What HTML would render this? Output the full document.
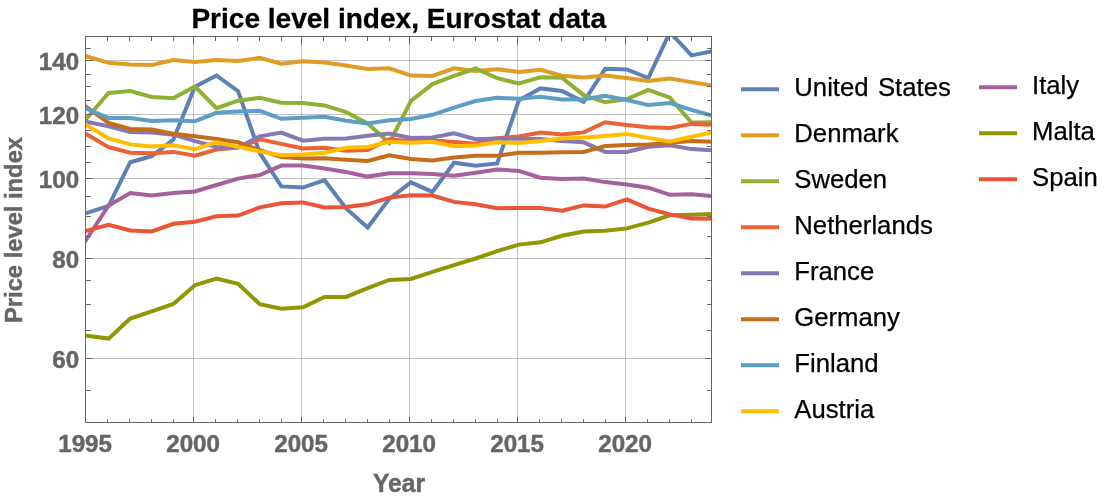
<!DOCTYPE html>
<html><head><meta charset="utf-8"><title>Price level index</title>
<style>
html,body{margin:0;padding:0;background:#fff;}
body{width:1108px;height:502px;overflow:hidden;position:relative;font-family:"Liberation Sans",sans-serif;}
svg{position:absolute;left:0;top:0;will-change:transform;}
text{font-family:"Liberation Sans",sans-serif;}
.tl{font-weight:bold;fill:#666666;font-size:24.2px;stroke:#666666;stroke-width:0.45px;}
.al{font-weight:bold;fill:#666666;font-size:24.6px;stroke:#666666;stroke-width:0.45px;}
.lg{fill:#000;font-size:25.7px;stroke:#000;stroke-width:0.25px;}
</style></head><body>
<svg width="1108" height="502" viewBox="0 0 1108 502">
<defs><clipPath id="c"><rect x="85.5" y="36.5" width="626.0" height="386.0"/></clipPath></defs>
<rect x="0" y="0" width="1108" height="502" fill="#fff"/>

<g stroke="#666666" stroke-opacity="0.4" stroke-width="1" fill="none">
<line x1="193.5" y1="36.5" x2="193.5" y2="422.5"/>
<line x1="301.5" y1="36.5" x2="301.5" y2="422.5"/>
<line x1="409.5" y1="36.5" x2="409.5" y2="422.5"/>
<line x1="517.5" y1="36.5" x2="517.5" y2="422.5"/>
<line x1="625.5" y1="36.5" x2="625.5" y2="422.5"/>
<line x1="85.5" y1="60.5" x2="711.5" y2="60.5"/>
<line x1="85.5" y1="114.5" x2="711.5" y2="114.5"/>
<line x1="85.5" y1="178.5" x2="711.5" y2="178.5"/>
<line x1="85.5" y1="258.5" x2="711.5" y2="258.5"/>
<line x1="85.5" y1="358.5" x2="711.5" y2="358.5"/>
</g>
<g clip-path="url(#c)" fill="none" stroke-width="4.0" stroke-linejoin="miter" stroke-linecap="butt" stroke-miterlimit="3">
<path d="M82.7,214.2 L87.0,212.8 L108.6,205.9 L130.2,162.2 L151.8,156.2 L173.4,139.6 L194.9,86.8 L216.5,75.5 L238.1,91.2 L259.7,152.8 L281.3,186.4 L302.9,187.6 L324.5,180.2 L346.1,208.4 L367.7,227.5 L389.3,198.9 L410.9,182.3 L432.4,191.9 L454.0,162.7 L475.6,165.7 L497.2,163.4 L518.8,100.3 L540.4,88.4 L562.0,91.0 L583.6,101.8 L605.2,68.8 L626.8,69.4 L648.3,78.0 L669.9,32.2 L691.5,55.4 L713.1,51.1" stroke="#5E81B5"/>
<path d="M82.7,55.2 L87.0,56.5 L108.6,62.8 L130.2,64.5 L151.8,64.9 L173.4,60.0 L194.9,62.0 L216.5,60.0 L238.1,60.9 L259.7,57.9 L281.3,63.8 L302.9,61.2 L324.5,62.6 L346.1,65.5 L367.7,69.0 L389.3,68.3 L410.9,75.6 L432.4,76.0 L454.0,68.3 L475.6,71.0 L497.2,69.2 L518.8,72.0 L540.4,69.8 L562.0,75.8 L583.6,77.6 L605.2,75.4 L626.8,78.0 L648.3,81.0 L669.9,78.5 L691.5,82.1 L713.1,85.7" stroke="#E19C24"/>
<path d="M82.7,123.0 L87.0,118.0 L108.6,93.0 L130.2,91.0 L151.8,97.0 L173.4,98.3 L194.9,86.5 L216.5,108.1 L238.1,100.7 L259.7,97.8 L281.3,102.7 L302.9,102.9 L324.5,105.4 L346.1,112.2 L367.7,123.4 L389.3,143.0 L410.9,101.0 L432.4,84.1 L454.0,75.8 L475.6,68.5 L497.2,78.2 L518.8,83.5 L540.4,77.3 L562.0,77.8 L583.6,95.1 L605.2,102.3 L626.8,99.0 L648.3,89.8 L669.9,97.7 L691.5,122.6 L713.1,122.2" stroke="#8FB032"/>
<path d="M82.7,132.0 L87.0,134.5 L108.6,147.2 L130.2,152.7 L151.8,153.3 L173.4,151.9 L194.9,155.7 L216.5,149.5 L238.1,147.5 L259.7,139.4 L281.3,143.9 L302.9,148.4 L324.5,147.8 L346.1,150.7 L367.7,150.1 L389.3,139.3 L410.9,141.2 L432.4,140.5 L454.0,142.0 L475.6,143.8 L497.2,138.2 L518.8,136.4 L540.4,132.6 L562.0,134.6 L583.6,132.4 L605.2,122.3 L626.8,125.0 L648.3,127.2 L669.9,128.0 L691.5,123.9 L713.1,124.9" stroke="#EB6235"/>
<path d="M82.7,121.0 L87.0,121.9 L108.6,126.3 L130.2,132.0 L151.8,132.4 L173.4,134.7 L194.9,141.1 L216.5,146.9 L238.1,147.6 L259.7,136.3 L281.3,132.6 L302.9,140.7 L324.5,138.8 L346.1,138.6 L367.7,135.7 L389.3,133.5 L410.9,137.9 L432.4,137.5 L454.0,133.3 L475.6,139.3 L497.2,138.6 L518.8,138.8 L540.4,139.0 L562.0,141.0 L583.6,142.3 L605.2,151.9 L626.8,152.0 L648.3,146.7 L669.9,145.3 L691.5,149.1 L713.1,150.4" stroke="#8778B3"/>
<path d="M82.7,104.3 L87.0,107.4 L108.6,122.9 L130.2,128.9 L151.8,129.5 L173.4,133.7 L194.9,136.3 L216.5,139.0 L238.1,142.3 L259.7,150.2 L281.3,157.0 L302.9,158.6 L324.5,158.3 L346.1,159.8 L367.7,161.0 L389.3,155.4 L410.9,159.0 L432.4,160.4 L454.0,157.6 L475.6,155.7 L497.2,155.7 L518.8,152.8 L540.4,152.7 L562.0,152.3 L583.6,151.9 L605.2,146.1 L626.8,145.1 L648.3,144.4 L669.9,142.8 L691.5,140.9 L713.1,141.8" stroke="#C56E1A"/>
<path d="M82.7,106.9 L87.0,108.8 L108.6,118.1 L130.2,117.9 L151.8,121.0 L173.4,120.2 L194.9,121.2 L216.5,112.8 L238.1,111.5 L259.7,110.8 L281.3,118.8 L302.9,117.7 L324.5,116.7 L346.1,120.8 L367.7,123.5 L389.3,120.2 L410.9,119.0 L432.4,114.8 L454.0,107.6 L475.6,101.0 L497.2,97.8 L518.8,98.8 L540.4,96.8 L562.0,99.6 L583.6,99.2 L605.2,95.9 L626.8,100.0 L648.3,105.1 L669.9,103.1 L691.5,109.8 L713.1,116.0" stroke="#5D9EC7"/>
<path d="M82.7,122.8 L87.0,125.4 L108.6,138.3 L130.2,144.4 L151.8,146.6 L173.4,145.3 L194.9,149.1 L216.5,142.2 L238.1,146.9 L259.7,151.4 L281.3,155.2 L302.9,154.4 L324.5,152.7 L346.1,147.7 L367.7,147.0 L389.3,141.7 L410.9,142.7 L432.4,141.8 L454.0,146.3 L475.6,145.4 L497.2,142.2 L518.8,143.0 L540.4,141.0 L562.0,138.5 L583.6,137.8 L605.2,136.0 L626.8,133.9 L648.3,137.9 L669.9,141.5 L691.5,136.8 L713.1,132.2" stroke="#FFBF00"/>
<path d="M82.7,245.1 L87.0,238.5 L108.6,205.4 L130.2,193.0 L151.8,195.6 L173.4,193.0 L194.9,191.4 L216.5,185.0 L238.1,178.6 L259.7,175.0 L281.3,165.6 L302.9,165.5 L324.5,168.6 L346.1,172.0 L367.7,176.6 L389.3,173.2 L410.9,173.2 L432.4,174.1 L454.0,175.8 L475.6,172.8 L497.2,169.5 L518.8,170.9 L540.4,177.7 L562.0,179.1 L583.6,178.5 L605.2,182.1 L626.8,184.4 L648.3,187.7 L669.9,194.8 L691.5,194.2 L713.1,196.0" stroke="#A5609D"/>
<path d="M82.7,335.1 L87.0,335.7 L108.6,338.6 L130.2,318.5 L151.8,311.3 L173.4,304.0 L194.9,285.2 L216.5,278.6 L238.1,283.9 L259.7,304.2 L281.3,308.8 L302.9,307.2 L324.5,296.9 L346.1,296.9 L367.7,288.2 L389.3,279.9 L410.9,279.0 L432.4,271.9 L454.0,265.1 L475.6,258.5 L497.2,251.1 L518.8,244.6 L540.4,242.3 L562.0,235.8 L583.6,231.6 L605.2,230.8 L626.8,228.4 L648.3,222.6 L669.9,215.3 L691.5,214.7 L713.1,213.9" stroke="#929600"/>
<path d="M82.7,231.7 L87.0,230.6 L108.6,224.9 L130.2,230.4 L151.8,231.4 L173.4,223.8 L194.9,221.8 L216.5,216.2 L238.1,215.5 L259.7,207.4 L281.3,203.3 L302.9,202.4 L324.5,207.5 L346.1,207.0 L367.7,204.3 L389.3,197.6 L410.9,195.2 L432.4,195.5 L454.0,201.9 L475.6,204.2 L497.2,208.3 L518.8,208.0 L540.4,208.0 L562.0,210.8 L583.6,205.4 L605.2,206.6 L626.8,199.3 L648.3,208.7 L669.9,214.4 L691.5,218.6 L713.1,218.8" stroke="#E95536"/>
</g>
<g stroke="#666666" stroke-width="1" fill="none">
<rect x="85.5" y="36.5" width="626.0" height="386.0"/>
</g>
<g stroke="#666666" stroke-width="1" fill="none">
<line x1="85.5" y1="422.5" x2="85.5" y2="417.0"/>
<line x1="85.5" y1="36.5" x2="85.5" y2="44.7"/>
<line x1="107.5" y1="422.5" x2="107.5" y2="419.2"/>
<line x1="107.5" y1="36.5" x2="107.5" y2="41.0"/>
<line x1="129.5" y1="422.5" x2="129.5" y2="419.2"/>
<line x1="129.5" y1="36.5" x2="129.5" y2="41.0"/>
<line x1="151.5" y1="422.5" x2="151.5" y2="419.2"/>
<line x1="151.5" y1="36.5" x2="151.5" y2="41.0"/>
<line x1="173.5" y1="422.5" x2="173.5" y2="419.2"/>
<line x1="173.5" y1="36.5" x2="173.5" y2="41.0"/>
<line x1="193.5" y1="422.5" x2="193.5" y2="417.0"/>
<line x1="193.5" y1="36.5" x2="193.5" y2="44.7"/>
<line x1="215.5" y1="422.5" x2="215.5" y2="419.2"/>
<line x1="215.5" y1="36.5" x2="215.5" y2="41.0"/>
<line x1="237.5" y1="422.5" x2="237.5" y2="419.2"/>
<line x1="237.5" y1="36.5" x2="237.5" y2="41.0"/>
<line x1="259.5" y1="422.5" x2="259.5" y2="419.2"/>
<line x1="259.5" y1="36.5" x2="259.5" y2="41.0"/>
<line x1="281.5" y1="422.5" x2="281.5" y2="419.2"/>
<line x1="281.5" y1="36.5" x2="281.5" y2="41.0"/>
<line x1="301.5" y1="422.5" x2="301.5" y2="417.0"/>
<line x1="301.5" y1="36.5" x2="301.5" y2="44.7"/>
<line x1="323.5" y1="422.5" x2="323.5" y2="419.2"/>
<line x1="323.5" y1="36.5" x2="323.5" y2="41.0"/>
<line x1="345.5" y1="422.5" x2="345.5" y2="419.2"/>
<line x1="345.5" y1="36.5" x2="345.5" y2="41.0"/>
<line x1="367.5" y1="422.5" x2="367.5" y2="419.2"/>
<line x1="367.5" y1="36.5" x2="367.5" y2="41.0"/>
<line x1="389.5" y1="422.5" x2="389.5" y2="419.2"/>
<line x1="389.5" y1="36.5" x2="389.5" y2="41.0"/>
<line x1="409.5" y1="422.5" x2="409.5" y2="417.0"/>
<line x1="409.5" y1="36.5" x2="409.5" y2="44.7"/>
<line x1="431.5" y1="422.5" x2="431.5" y2="419.2"/>
<line x1="431.5" y1="36.5" x2="431.5" y2="41.0"/>
<line x1="453.5" y1="422.5" x2="453.5" y2="419.2"/>
<line x1="453.5" y1="36.5" x2="453.5" y2="41.0"/>
<line x1="475.5" y1="422.5" x2="475.5" y2="419.2"/>
<line x1="475.5" y1="36.5" x2="475.5" y2="41.0"/>
<line x1="497.5" y1="422.5" x2="497.5" y2="419.2"/>
<line x1="497.5" y1="36.5" x2="497.5" y2="41.0"/>
<line x1="517.5" y1="422.5" x2="517.5" y2="417.0"/>
<line x1="517.5" y1="36.5" x2="517.5" y2="44.7"/>
<line x1="539.5" y1="422.5" x2="539.5" y2="419.2"/>
<line x1="539.5" y1="36.5" x2="539.5" y2="41.0"/>
<line x1="561.5" y1="422.5" x2="561.5" y2="419.2"/>
<line x1="561.5" y1="36.5" x2="561.5" y2="41.0"/>
<line x1="583.5" y1="422.5" x2="583.5" y2="419.2"/>
<line x1="583.5" y1="36.5" x2="583.5" y2="41.0"/>
<line x1="605.5" y1="422.5" x2="605.5" y2="419.2"/>
<line x1="605.5" y1="36.5" x2="605.5" y2="41.0"/>
<line x1="625.5" y1="422.5" x2="625.5" y2="417.0"/>
<line x1="625.5" y1="36.5" x2="625.5" y2="44.7"/>
<line x1="647.5" y1="422.5" x2="647.5" y2="419.2"/>
<line x1="647.5" y1="36.5" x2="647.5" y2="41.0"/>
<line x1="669.5" y1="422.5" x2="669.5" y2="419.2"/>
<line x1="669.5" y1="36.5" x2="669.5" y2="41.0"/>
<line x1="691.5" y1="422.5" x2="691.5" y2="419.2"/>
<line x1="691.5" y1="36.5" x2="691.5" y2="41.0"/>
<line x1="85.5" y1="390.5" x2="90.9" y2="390.5"/>
<line x1="711.5" y1="390.5" x2="707.1" y2="390.5"/>
<line x1="85.5" y1="358.5" x2="92.9" y2="358.5"/>
<line x1="711.5" y1="358.5" x2="704.9" y2="358.5"/>
<line x1="85.5" y1="330.5" x2="90.9" y2="330.5"/>
<line x1="711.5" y1="330.5" x2="707.1" y2="330.5"/>
<line x1="85.5" y1="304.5" x2="90.9" y2="304.5"/>
<line x1="711.5" y1="304.5" x2="707.1" y2="304.5"/>
<line x1="85.5" y1="280.5" x2="90.9" y2="280.5"/>
<line x1="711.5" y1="280.5" x2="707.1" y2="280.5"/>
<line x1="85.5" y1="258.5" x2="92.9" y2="258.5"/>
<line x1="711.5" y1="258.5" x2="704.9" y2="258.5"/>
<line x1="85.5" y1="236.5" x2="90.9" y2="236.5"/>
<line x1="711.5" y1="236.5" x2="707.1" y2="236.5"/>
<line x1="85.5" y1="216.5" x2="90.9" y2="216.5"/>
<line x1="711.5" y1="216.5" x2="707.1" y2="216.5"/>
<line x1="85.5" y1="196.5" x2="90.9" y2="196.5"/>
<line x1="711.5" y1="196.5" x2="707.1" y2="196.5"/>
<line x1="85.5" y1="178.5" x2="92.9" y2="178.5"/>
<line x1="711.5" y1="178.5" x2="704.9" y2="178.5"/>
<line x1="85.5" y1="162.5" x2="90.9" y2="162.5"/>
<line x1="711.5" y1="162.5" x2="707.1" y2="162.5"/>
<line x1="85.5" y1="146.5" x2="90.9" y2="146.5"/>
<line x1="711.5" y1="146.5" x2="707.1" y2="146.5"/>
<line x1="85.5" y1="130.5" x2="90.9" y2="130.5"/>
<line x1="711.5" y1="130.5" x2="707.1" y2="130.5"/>
<line x1="85.5" y1="114.5" x2="92.9" y2="114.5"/>
<line x1="711.5" y1="114.5" x2="704.9" y2="114.5"/>
<line x1="85.5" y1="100.5" x2="90.9" y2="100.5"/>
<line x1="711.5" y1="100.5" x2="707.1" y2="100.5"/>
<line x1="85.5" y1="86.5" x2="90.9" y2="86.5"/>
<line x1="711.5" y1="86.5" x2="707.1" y2="86.5"/>
<line x1="85.5" y1="74.5" x2="90.9" y2="74.5"/>
<line x1="711.5" y1="74.5" x2="707.1" y2="74.5"/>
<line x1="85.5" y1="60.5" x2="92.9" y2="60.5"/>
<line x1="711.5" y1="60.5" x2="704.9" y2="60.5"/>
<line x1="85.5" y1="48.5" x2="90.9" y2="48.5"/>
<line x1="711.5" y1="48.5" x2="707.1" y2="48.5"/>
</g>
<text class="tl" transform="translate(85.1,452.1) scale(1,1.02)" text-anchor="middle">1995</text>
<text class="tl" transform="translate(193.1,452.1) scale(1,1.02)" text-anchor="middle">2000</text>
<text class="tl" transform="translate(301.1,452.1) scale(1,1.02)" text-anchor="middle">2005</text>
<text class="tl" transform="translate(409.1,452.1) scale(1,1.02)" text-anchor="middle">2010</text>
<text class="tl" transform="translate(517.1,452.1) scale(1,1.02)" text-anchor="middle">2015</text>
<text class="tl" transform="translate(625.1,452.1) scale(1,1.02)" text-anchor="middle">2020</text>
<text class="tl" transform="translate(79.1,69.5) scale(1,1.02)" text-anchor="end">140</text>
<text class="tl" transform="translate(79.1,123.5) scale(1,1.02)" text-anchor="end">120</text>
<text class="tl" transform="translate(79.1,187.5) scale(1,1.02)" text-anchor="end">100</text>
<text class="tl" transform="translate(79.1,267.5) scale(1,1.02)" text-anchor="end">80</text>
<text class="tl" transform="translate(79.1,367.5) scale(1,1.02)" text-anchor="end">60</text>
<text class="al" transform="translate(399.0,491.5) scale(1,1.02)" text-anchor="middle">Year</text>
<text class="al" style="font-size:23.75px" transform="translate(22.3,230.0) rotate(-90) scale(1,0.985)" text-anchor="middle">Price level index</text>
<text x="398.7" y="27.8" text-anchor="middle" font-weight="bold" font-size="28.06px" fill="#000" stroke="#000" stroke-width="0.3">Price level index, Eurostat data</text>
<line x1="741" y1="89.3" x2="779" y2="89.3" stroke="#5E81B5" stroke-width="4.0"/>
<text class="lg" x="794.3" y="95.7" word-spacing="2.3">United States</text>
<line x1="741" y1="135.3" x2="779" y2="135.3" stroke="#E19C24" stroke-width="4.0"/>
<text class="lg" x="794.3" y="141.7">Denmark</text>
<line x1="741" y1="181.3" x2="779" y2="181.3" stroke="#8FB032" stroke-width="4.0"/>
<text class="lg" x="794.3" y="187.7">Sweden</text>
<line x1="741" y1="227.3" x2="779" y2="227.3" stroke="#EB6235" stroke-width="4.0"/>
<text class="lg" x="794.3" y="233.7">Netherlands</text>
<line x1="741" y1="273.3" x2="779" y2="273.3" stroke="#8778B3" stroke-width="4.0"/>
<text class="lg" x="794.3" y="279.7">France</text>
<line x1="741" y1="319.3" x2="779" y2="319.3" stroke="#C56E1A" stroke-width="4.0"/>
<text class="lg" x="794.3" y="325.7">Germany</text>
<line x1="741" y1="365.3" x2="779" y2="365.3" stroke="#5D9EC7" stroke-width="4.0"/>
<text class="lg" x="794.3" y="371.7">Finland</text>
<line x1="741" y1="411.3" x2="779" y2="411.3" stroke="#FFBF00" stroke-width="4.0"/>
<text class="lg" x="794.3" y="417.7">Austria</text>
<line x1="979" y1="87.3" x2="1017" y2="87.3" stroke="#A5609D" stroke-width="4.0"/>
<text class="lg" x="1032.0" y="93.7">Italy</text>
<line x1="979" y1="133.3" x2="1017" y2="133.3" stroke="#929600" stroke-width="4.0"/>
<text class="lg" x="1032.0" y="139.7">Malta</text>
<line x1="979" y1="179.3" x2="1017" y2="179.3" stroke="#E95536" stroke-width="4.0"/>
<text class="lg" x="1032.0" y="185.7">Spain</text>
</svg></body></html>
